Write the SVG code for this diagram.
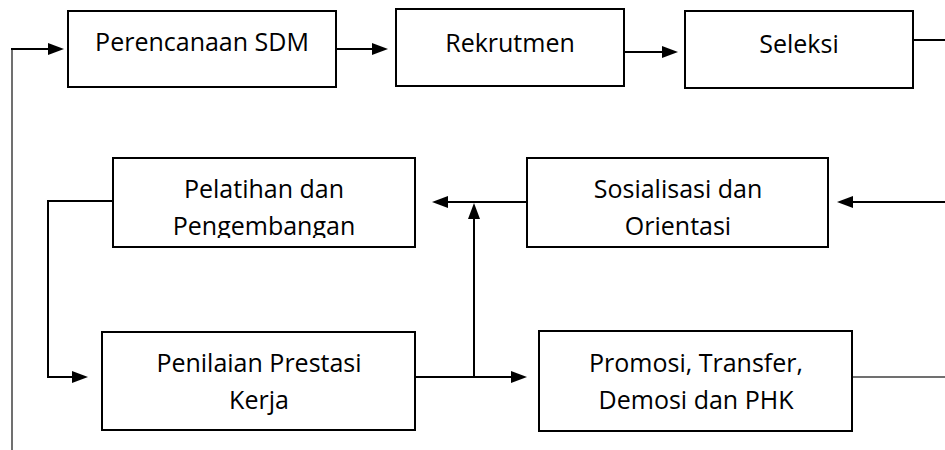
<svg xmlns="http://www.w3.org/2000/svg" width="945" height="450" viewBox="0 0 945 450">
<style>
.box{fill:#fff;stroke:#000;stroke-width:2}
.lbl{font-family:"Open Sans","Noto Sans",sans-serif;font-size:25px;fill:#000;text-anchor:middle}
.ln{fill:none;stroke:#000;stroke-width:2}
.thin{fill:none;stroke:#404040;stroke-width:1.5}
</style>
<defs>
<marker id="ah" markerUnits="userSpaceOnUse" markerWidth="16" markerHeight="12" refX="13" refY="6" orient="auto">
<path d="M0,0 L16,6 L0,12 z" fill="#000"/>
</marker>
<clipPath id="c4"><rect x="113" y="158" width="302" height="80"/></clipPath>
<clipPath id="c5"><rect x="527" y="158" width="301" height="80"/></clipPath>
</defs>
<g id="connectors">
<path class="thin" d="M12,450 V49"/>
<path class="ln" d="M11,49 H61" marker-end="url(#ah)"/>
<path class="ln" d="M336,49 H385" marker-end="url(#ah)"/>
<path class="ln" d="M624,52 H675" marker-end="url(#ah)"/>
<path class="ln" d="M913,40 H945"/>
<path class="ln" d="M945,202 H840" marker-end="url(#ah)"/>
<path class="ln" d="M527,202 H435" marker-end="url(#ah)"/>
<path class="ln" d="M474,377 V206" marker-end="url(#ah)"/>
<path class="ln" d="M113,201 H48 V377 H85" marker-end="url(#ah)"/>
<path class="ln" d="M415,377 H524" marker-end="url(#ah)"/>
<path class="thin" d="M852,377 H945"/>
</g>
<g id="perencanaan">
<rect class="box" x="68" y="11" width="268" height="76"/>
<text class="lbl" x="202" y="51">Perencanaan SDM</text>
</g>
<g id="rekrutmen">
<rect class="box" x="396" y="9" width="228" height="77"/>
<text class="lbl" x="510" y="52">Rekrutmen</text>
</g>
<g id="seleksi">
<rect class="box" x="685" y="11" width="228" height="77"/>
<text class="lbl" x="799" y="53">Seleksi</text>
</g>
<g id="pelatihan">
<rect class="box" x="113" y="158" width="302" height="89"/>
<g clip-path="url(#c4)">
<text class="lbl" x="264" y="197.5">Pelatihan dan</text>
<text class="lbl" x="264" y="235">Pengembangan</text>
</g>
</g>
<g id="sosialisasi">
<rect class="box" x="527" y="158" width="301" height="89"/>
<g clip-path="url(#c5)">
<text class="lbl" x="678" y="197.5">Sosialisasi dan</text>
<text class="lbl" x="678" y="235">Orientasi</text>
</g>
</g>
<g id="penilaian">
<rect class="box" x="102" y="332" width="313" height="98"/>
<text class="lbl" x="259" y="372">Penilaian Prestasi</text>
<text class="lbl" x="259" y="409">Kerja</text>
</g>
<g id="promosi">
<rect class="box" x="539" y="331" width="313" height="100"/>
<text class="lbl" x="696" y="372">Promosi, Transfer,</text>
<text class="lbl" x="696" y="409">Demosi dan PHK</text>
</g>
</svg>
